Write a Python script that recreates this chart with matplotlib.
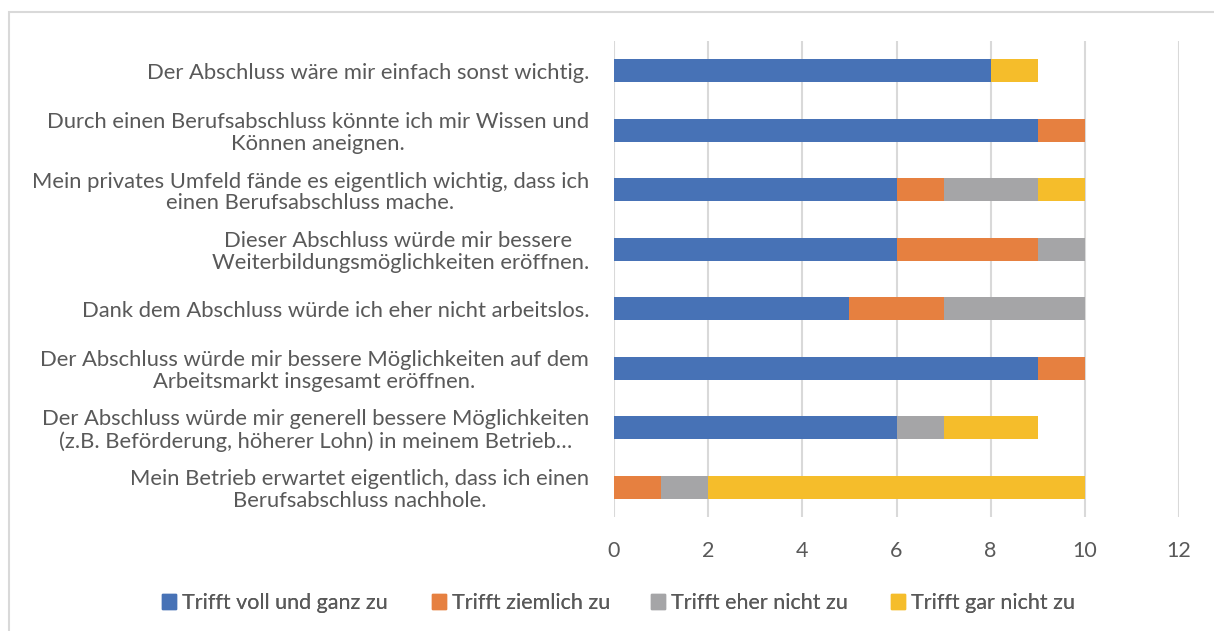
import matplotlib
matplotlib.use("Agg")
import matplotlib.pyplot as plt
from matplotlib.patches import Rectangle, Patch

categories = [
    "Der Abschluss wäre mir einfach sonst wichtig.",
    "Durch einen Berufsabschluss könnte ich mir Wissen und\nKönnen aneignen.",
    "Mein privates Umfeld fände es eigentlich wichtig, dass ich\neinen Berufsabschluss mache.",
    "Dieser Abschluss würde mir bessere \nWeiterbildungsmöglichkeiten eröffnen.",
    "Dank dem Abschluss würde ich eher nicht arbeitslos.",
    "Der Abschluss würde mir bessere Möglichkeiten auf dem\nArbeitsmarkt insgesamt eröffnen.",
    "Der Abschluss würde mir generell bessere Möglichkeiten\n(z.B. Beförderung, höherer Lohn) in meinem Betrieb…",
    "Mein Betrieb erwartet eigentlich, dass ich einen\nBerufsabschluss nachhole.",
]
series_names = ["Trifft voll und ganz zu", "Trifft ziemlich zu",
                "Trifft eher nicht zu", "Trifft gar nicht zu"]
voll = [8, 9, 6, 6, 5, 9, 6, 0]
ziemlich = [0, 1, 1, 3, 2, 1, 0, 1]
eher_nicht = [0, 0, 2, 1, 3, 0, 1, 1]
gar_nicht = [1, 0, 1, 0, 0, 0, 2, 8]
x_ticks = [0, 2, 4, 6, 8, 10, 12]

colors = ["#4772B6", "#E68040", "#A5A5A7", "#F5BD2B"]
text_color = "#595959"
font = "Lato"
fs = 15.5

fig = plt.figure(figsize=(12.14, 6.31), dpi=100)
fig.patches.append(Rectangle((9 / 1214, -0.1), 1.2, 1 - 12 / 631 + 0.1,
                             transform=fig.transFigure, fill=False,
                             edgecolor="#D9D9D9", linewidth=1.5))
ax = fig.add_axes([614 / 1214, 1 - 517 / 631, (1179 - 614) / 1214, (517 - 41) / 631])

ypos = list(range(len(categories)))
left = [0] * len(categories)
for vals, col, name in zip([voll, ziemlich, eher_nicht, gar_nicht], colors, series_names):
    ax.barh(ypos, vals, left=left, height=0.39, color=col, label=name, zorder=3)
    left = [a + b for a, b in zip(left, vals)]

ax.set_ylim(len(categories) - 0.5, -0.5)
ax.set_xlim(0, 12)
ax.set_xticks(x_ticks)
ax.set_xticklabels([str(t) for t in x_ticks], fontsize=fs, color=text_color, family=font)
ax.set_yticks(ypos)
ax.set_yticklabels(categories, fontsize=15.8, color=text_color, family=font,
                   multialignment="center", linespacing=1.1)
ax.tick_params(axis="both", length=0)
ax.tick_params(axis="y", pad=18)
ax.tick_params(axis="x", pad=17)
ax.grid(axis="x", color="#D9D9D9", linewidth=1.5, zorder=0)
for s in ax.spines.values():
    s.set_visible(False)

legend_x = [162, 432, 651, 891]
for c, n, lx in zip(colors, series_names, legend_x):
    leg = fig.legend(handles=[Patch(color=c, label=n)], loc="center left",
                     bbox_to_anchor=(lx / 1214, 1 - 603 / 631),
                     frameon=False, prop={"family": font, "size": fs},
                     labelcolor=text_color, handlelength=0.65, handleheight=0.65,
                     handletextpad=0.3, borderpad=0, borderaxespad=0)
    fig.add_artist(leg)

fig.savefig("out.png", dpi=100)
